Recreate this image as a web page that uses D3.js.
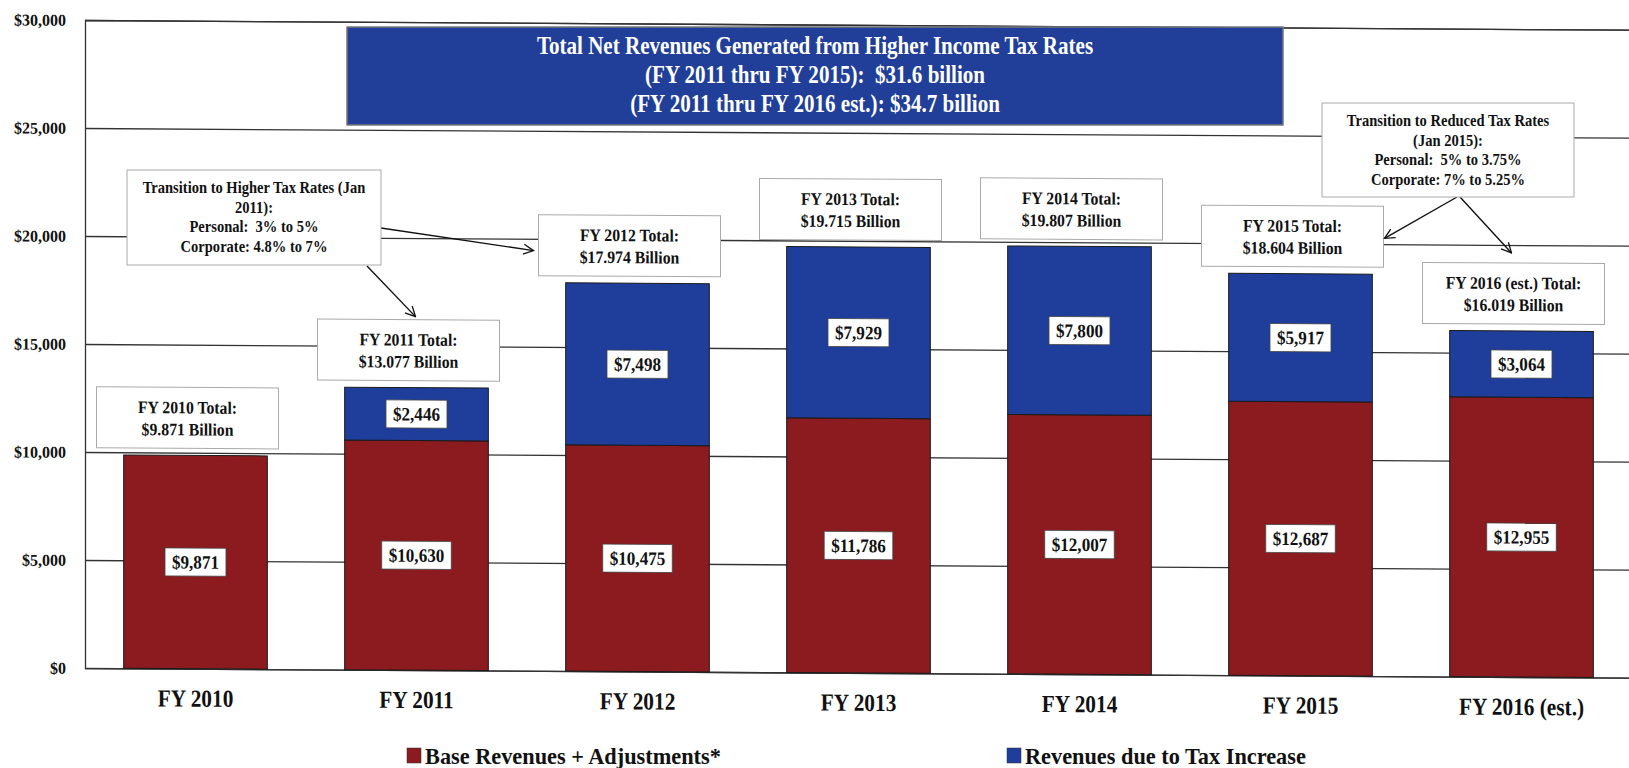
<!DOCTYPE html>
<html>
<head>
<meta charset="utf-8">
<script src="https://cdn.jsdelivr.net/npm/d3@7"></script>
<style>
  body { margin: 0; background: #fff; }
  svg text { font-weight: bold; fill: #111; white-space: pre; }
</style>
</head>
<body>
<div id="chart"></div>
<script>
// data (millions of $)
const categories = ["FY 2010", "FY 2011", "FY 2012", "FY 2013", "FY 2014", "FY 2015", "FY 2016 (est.)"];
const baseValues = [9871, 10630, 10475, 11786, 12007, 12687, 12955];
const taxValues = [0, 2446, 7498, 7929, 7800, 5917, 3064];
const totalBillions = ["9.871", "13.077", "17.974", "19.715", "19.807", "18.604", "16.019"];
const yTicks = [0, 5000, 10000, 15000, 20000, 25000, 30000];
const seriesNames = ["Base Revenues + Adjustments*", "Revenues due to Tax Increase"];
const titleLines = [
    "Total Net Revenues Generated from Higher Income Tax Rates",
    "(FY 2011 thru FY 2015):  $31.6 billion",
    "(FY 2011 thru FY 2016 est.): $34.7 billion"
];
const noteHigher = ["Transition to Higher Tax Rates (Jan", "2011):", "Personal:  3% to 5%", "Corporate: 4.8% to 7%"];
const noteReduced = ["Transition to Reduced Tax Rates", "(Jan 2015):", "Personal:  5% to 3.75%", "Corporate: 7% to 5.25%"];

const colors = ["#8b1b1f", "#1f3e9c"];
const FONT = "'Liberation Serif', 'Times New Roman', serif";

const W = 1629, H = 768;
const plotLeft = 85, plotRight = 1632, plotTop = 20, plotBottom = 668;

// the scan is skewed a little: right side sits lower
const tilt = 0.36;
const slope = Math.tan(tilt * Math.PI / 180);
function skewPt(px, py) {
    return [px, py + (px - plotLeft) * slope];
}

const svg = d3.select("#chart").append("svg")
    .attr("width", W)
    .attr("height", H);

const x = d3.scaleBand()
    .domain(categories)
    .range([plotLeft, plotRight])
    .paddingInner(0.35)
    .paddingOuter(0.175);

const y = d3.scaleLinear()
    .domain([0, 30000])
    .range([plotBottom, plotTop]);

// condensed text helper (the scan's serif is narrower than Liberation Serif)
function ctext(sel, px, py, str, size, sx, anchor) {
    return sel.append("text")
        .attr("transform", `translate(${px},${py}) scale(${sx},1)`)
        .attr("text-anchor", anchor || "middle")
        .attr("font-family", FONT)
        .style("font-size", size + "px")
        .text(str);
}

svg.append("defs").append("marker")
    .attr("id", "arrow")
    .attr("viewBox", "0 0 12 12")
    .attr("refX", 11).attr("refY", 6)
    .attr("markerWidth", 12).attr("markerHeight", 12)
    .attr("markerUnits", "userSpaceOnUse")
    .attr("orient", "auto")
    .append("path")
    .attr("d", "M1,1 L11,6 L1,11")
    .attr("fill", "none")
    .attr("stroke", "#111")
    .attr("stroke-width", 1.3);

const chart = svg.append("g")
    .attr("transform", `translate(${plotLeft},${plotBottom}) skewY(${tilt}) translate(${-plotLeft},${-plotBottom})`);

// gridlines + y axis
const yAxis = chart.append("g")
    .attr("transform", `translate(${plotLeft},0)`)
    .call(d3.axisLeft(y).tickValues(yTicks).tickSize(-(W - plotLeft)).tickFormat(d => "$" + d3.format(",")(d)));
yAxis.select(".domain").attr("stroke", "#333").attr("stroke-width", 1.3);
yAxis.selectAll(".tick line").attr("stroke", "#333").attr("stroke-width", 1.3);
yAxis.selectAll(".tick text").remove();
yTicks.forEach(d => {
    ctext(chart, 66, y(d) + 6, "$" + d3.format(",")(d), 16.5, 0.97, "end");
});

// stacked bars
const rows = categories.map((c, i) => ({ cat: c, base: baseValues[i], tax: taxValues[i] }));
const stacked = d3.stack().keys(["base", "tax"])(rows);

const layers = chart.append("g").selectAll("g")
    .data(stacked)
    .enter().append("g")
    .attr("fill", (d, i) => colors[i]);

layers.selectAll("rect")
    .data(d => d.filter(s => s[1] - s[0] > 0))
    .enter().append("rect")
    .attr("x", d => x(d.data.cat))
    .attr("y", d => y(d[1]))
    .attr("width", x.bandwidth())
    .attr("height", d => y(d[0]) - y(d[1]))
    .attr("stroke", "#1a1a1a")
    .attr("stroke-width", 1);

// value labels inside segments
stacked.forEach(layer => {
    layer.forEach(s => {
        const v = s[1] - s[0];
        if (v <= 0) return;
        const cx = x(s.data.cat) + x.bandwidth() / 2;
        const cy = y((s[0] + s[1]) / 2);
        const g = chart.append("g");
        const box = g.append("rect");
        const t = ctext(g, cx, cy + 6.5, "$" + d3.format(",")(v), 19, 0.9);
        const w = t.node().getBBox().width * 0.9 + 14;
        box.attr("x", cx - w / 2).attr("y", cy - 14)
            .attr("width", w).attr("height", 28)
            .attr("fill", "#fff").attr("stroke", "#444").attr("stroke-width", 0.8);
    });
});

// total boxes above bars
const boxW = 182, boxH = 61;
const totalBox = {};
rows.forEach((r, i) => {
    const cx = x(r.cat) + x.bandwidth() / 2 - 8;
    const by = y(r.base + r.tax) - 7 - boxH;
    totalBox[r.cat] = { x0: cx - boxW / 2, x1: cx + boxW / 2, y0: by, y1: by + boxH, cx: cx };
    const g = chart.append("g");
    g.append("rect")
        .attr("x", cx - boxW / 2).attr("y", by)
        .attr("width", boxW).attr("height", boxH)
        .attr("fill", "#fff").attr("stroke", "#aaa").attr("stroke-width", 1);
    const yr = r.cat.replace("FY ", "");
    ctext(g, cx, by + 26, "FY " + yr + " Total:", 17.5, 0.9);
    ctext(g, cx, by + 48, "$" + totalBillions[i] + " Billion", 17.5, 0.9);
});

// category labels
categories.forEach(c => {
    ctext(chart, x(c) + x.bandwidth() / 2, 706, c, 24.5, 0.87);
});

// headline box
const tb = { x: 347, y: 27, w: 936, h: 98 };
svg.append("rect")
    .attr("x", tb.x).attr("y", tb.y).attr("width", tb.w).attr("height", tb.h)
    .attr("fill", "#213f99").attr("stroke", "#777").attr("stroke-width", 1.5);
titleLines.forEach((l, i) => {
    ctext(svg, tb.x + tb.w / 2, 54 + i * 29, l, 24.5, 0.86).style("fill", "#fff");
});

// transition notes with arrows
function note(lines, bx, byy, bw, bh) {
    const g = svg.append("g");
    g.append("rect").attr("x", bx).attr("y", byy).attr("width", bw).attr("height", bh)
        .attr("fill", "#fff").attr("stroke", "#aaa").attr("stroke-width", 1);
    lines.forEach((l, i) => ctext(g, bx + bw / 2, byy + 23 + i * 19.5, l, 17.5, 0.83));
}
function arrow(x1, y1, end) {
    const p = skewPt(end[0], end[1]);
    svg.append("line")
        .attr("x1", x1).attr("y1", y1).attr("x2", p[0]).attr("y2", p[1])
        .attr("stroke", "#111").attr("stroke-width", 1.4)
        .attr("marker-end", "url(#arrow)");
}

const n1 = { x: 127, y: 170, w: 254, h: 95 };
const b12 = totalBox["FY 2012"], b11 = totalBox["FY 2011"];
arrow(n1.x + n1.w, n1.y + 58, [b12.x0 - 5, b12.y0 + 36]);
arrow(n1.x + 240, n1.y + n1.h + 1, [b11.cx + 7, b11.y0 - 3]);
note(noteHigher, n1.x, n1.y, n1.w, n1.h);

const n2 = { x: 1322, y: 103, w: 252, h: 94 };
const b15 = totalBox["FY 2015"], b16 = totalBox["FY 2016 (est.)"];
arrow(n2.x + 135, n2.y + n2.h, [b15.x1 + 1, b15.y0 + 32]);
arrow(n2.x + 138, n2.y + n2.h, [b16.cx - 2, b16.y0 - 10]);
note(noteReduced, n2.x, n2.y, n2.w, n2.h);

// legend
const legendX = [407, 1007];
seriesNames.forEach((s, i) => {
    svg.append("rect")
        .attr("x", legendX[i]).attr("y", 748)
        .attr("width", 14).attr("height", 15)
        .attr("fill", colors[i]).attr("stroke", "#333").attr("stroke-width", 0.5);
    ctext(svg, legendX[i] + 18, 764, s, 24, 0.93, "start");
});
</script>
</body>
</html>
